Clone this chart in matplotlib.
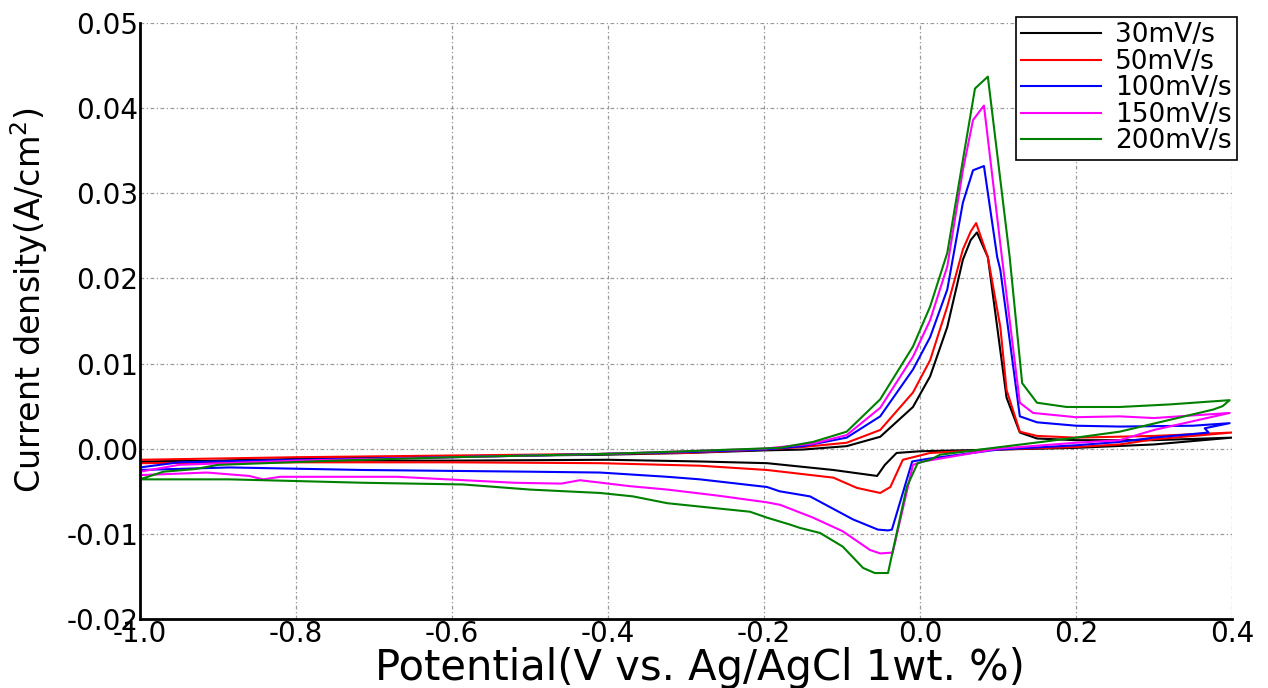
import matplotlib
matplotlib.use("Agg")
import matplotlib.pyplot as plt
from matplotlib.ticker import FormatStrFormatter

plt.rcParams['font.family'] = ['DejaVu Sans']
plt.rcParams['axes.unicode_minus'] = False

# scan-rate labels and colours
labels = ['30mV/s', '50mV/s', '100mV/s', '150mV/s', '200mV/s']
colors = ['black', 'red', 'blue', 'magenta', 'green']

# forward (anodic) sweeps, -1.0 -> 0.4 V
fwd_x_30 = [-1.0, -0.9, -0.8, -0.6, -0.4, -0.3, -0.2, -0.15, -0.094, -0.051, -0.009, 0.013, 0.035,
            0.055, 0.065, 0.073, 0.087, 0.1, 0.111, 0.128, 0.15, 0.2, 0.3, 0.4]
fwd_y_30 = [-0.0016, -0.0014, -0.0012, -0.0009, -0.0007, -0.0005, -0.0002, -0.0001, 0.0003, 0.0014,
            0.0049, 0.0085, 0.0143, 0.0222, 0.0245, 0.0254, 0.0225, 0.0136, 0.0060, 0.0019, 0.0012,
            0.0010, 0.0010, 0.0013]
fwd_x_50 = [-1.0, -0.8, -0.6, -0.4, -0.3, -0.2, -0.15, -0.094, -0.051, -0.009, 0.013, 0.035, 0.055,
            0.065, 0.072, 0.087, 0.103, 0.111, 0.128, 0.15, 0.2, 0.3, 0.4]
fwd_y_50 = [-0.0013, -0.0010, -0.0008, -0.0006, -0.0005, -0.0001, 0.0002, 0.0007, 0.0022, 0.0066,
            0.0104, 0.0167, 0.0234, 0.0255, 0.0265, 0.0225, 0.0143, 0.0069, 0.0020, 0.0015, 0.0013,
            0.0015, 0.0019]
fwd_x_100 = [-1.0, -0.95, -0.8, -0.6, -0.4, -0.3, -0.2, -0.15, -0.094, -0.051, -0.009, 0.013, 0.035,
             0.055, 0.068, 0.082, 0.099, 0.103, 0.128, 0.15, 0.2, 0.256, 0.35, 0.397]
fwd_y_100 = [-0.0022, -0.0016, -0.0013, -0.0010, -0.0006, -0.0004, -0.0001, 0.0003, 0.0013, 0.0038,
             0.0093, 0.0131, 0.0187, 0.0289, 0.0327, 0.0332, 0.0225, 0.0210, 0.0038, 0.0031, 0.0027,
             0.0026, 0.0027, 0.0030]
fwd_x_150 = [-1.0, -0.95, -0.8, -0.6, -0.4, -0.3, -0.2, -0.137, -0.094, -0.051, -0.009, 0.013, 0.035,
             0.055, 0.068, 0.082, 0.105, 0.128, 0.145, 0.2, 0.256, 0.3, 0.397]
fwd_y_150 = [-0.0027, -0.0019, -0.0014, -0.0010, -0.0006, -0.0003, 0.0000, 0.0006, 0.0016, 0.0048,
             0.0108, 0.0151, 0.0214, 0.0327, 0.0386, 0.0403, 0.0225, 0.0054, 0.0042, 0.0037, 0.0038,
             0.0036, 0.0042]
fwd_x_200 = [-1.0, -0.97, -0.93, -0.9, -0.75, -0.6, -0.4, -0.3, -0.18, -0.137, -0.094, -0.051, -0.009,
             0.013, 0.035, 0.055, 0.0705, 0.087, 0.115, 0.131, 0.15, 0.188, 0.256, 0.32, 0.397]
fwd_y_200 = [-0.0036, -0.0027, -0.0024, -0.0019, -0.0014, -0.0010, -0.0006, -0.0003, 0.0001, 0.0008,
             0.0020, 0.0058, 0.0120, 0.0167, 0.0230, 0.0339, 0.0423, 0.0437, 0.0225, 0.0077, 0.0054,
             0.0049, 0.0049, 0.0052, 0.0057]

# reverse (cathodic) sweeps, 0.4 -> -1.0 V
rev_x_30 = [0.4, 0.3, 0.2, 0.1, 0.0, -0.03, -0.045, -0.055, -0.111, -0.196, -0.282, -0.4, -0.6, -0.8, -1.0]
rev_y_30 = [0.0013, 0.0005, 0.0001, -0.0001, -0.0003, -0.0005, -0.0019, -0.0032, -0.0025, -0.0017,
            -0.0015, -0.0013, -0.0014, -0.0014, -0.0015]
rev_x_50 = [0.4, 0.3, 0.256, 0.2, 0.1, 0.013, -0.022, -0.038, -0.051, -0.081, -0.111, -0.196, -0.282,
            -0.41, -0.6, -0.8, -1.0]
rev_y_50 = [0.0019, 0.0011, 0.0005, 0.0002, -0.0001, -0.0005, -0.0013, -0.0045, -0.0052, -0.0046,
            -0.0034, -0.0025, -0.0020, -0.0017, -0.0016, -0.0016, -0.0017]
rev_x_100 = [0.397, 0.365, 0.37, 0.3, 0.256, 0.2, 0.1, 0.009, -0.010, -0.036, -0.041, -0.054, -0.086,
             -0.141, -0.18, -0.196, -0.282, -0.324, -0.41, -0.5, -0.714, -0.885, -1.0]
rev_y_100 = [0.0030, 0.0024, 0.0019, 0.0013, 0.0008, 0.0004, -0.0001, -0.0012, -0.0015, -0.0095,
             -0.0096, -0.0095, -0.0083, -0.0056, -0.0050, -0.0045, -0.0036, -0.0033, -0.0028, -0.0027,
             -0.0025, -0.0022, -0.0025]
rev_x_150 = [0.397, 0.3, 0.256, 0.2, 0.1, 0.004, -0.009, -0.035, -0.051, -0.064, -0.099, -0.137, -0.179,
             -0.196, -0.26, -0.324, -0.372, -0.436, -0.46, -0.52, -0.67, -0.82, -0.842, -0.86, -0.914, -1.0]
rev_y_150 = [0.0042, 0.0022, 0.0010, 0.0007, 0.0000, -0.0015, -0.0019, -0.0122, -0.0123, -0.0119,
             -0.0097, -0.0081, -0.0066, -0.0063, -0.0055, -0.0048, -0.0044, -0.0037, -0.0041, -0.0040,
             -0.0033, -0.0033, -0.0036, -0.0032, -0.0028, -0.0031]
rev_x_200 = [0.397, 0.388, 0.376, 0.256, 0.2, 0.077, 0.026, 0.013, -0.003, -0.017, -0.041, -0.058, -0.073,
             -0.099, -0.128, -0.154, -0.167, -0.196, -0.218, -0.282, -0.324, -0.368, -0.41, -0.5, -0.586,
             -0.714, -0.885, -1.0]
rev_y_200 = [0.0057, 0.0050, 0.0046, 0.0020, 0.0013, -0.0001, -0.0007, -0.0013, -0.0017, -0.0045,
             -0.0146, -0.0146, -0.0140, -0.0115, -0.0099, -0.0093, -0.0089, -0.0081, -0.0074, -0.0068,
             -0.0064, -0.0056, -0.0052, -0.0048, -0.0042, -0.0040, -0.0036, -0.0036]

fwd = [(fwd_x_30, fwd_y_30), (fwd_x_50, fwd_y_50), (fwd_x_100, fwd_y_100),
       (fwd_x_150, fwd_y_150), (fwd_x_200, fwd_y_200)]
rev = [(rev_x_30, rev_y_30), (rev_x_50, rev_y_50), (rev_x_100, rev_y_100),
       (rev_x_150, rev_y_150), (rev_x_200, rev_y_200)]

fig = plt.figure(figsize=(12.68, 6.88), dpi=100)
ax = fig.add_axes([0.1104, 0.1003, 0.8612, 0.8663])

for (fx, fy), (rx, ry), lab, col in zip(fwd, rev, labels, colors):
    ax.plot(fx + rx, fy + ry, color=col, lw=1.5, label=lab)

ax.set_xlim(-1.0, 0.4)
ax.set_ylim(-0.02, 0.05)
ax.set_xticks([-1.0, -0.8, -0.6, -0.4, -0.2, 0.0, 0.2, 0.4])
ax.set_yticks([-0.02, -0.01, 0.0, 0.01, 0.02, 0.03, 0.04, 0.05])
ax.xaxis.set_major_formatter(FormatStrFormatter('%.1f'))
ax.yaxis.set_major_formatter(FormatStrFormatter('%.2f'))
ax.tick_params(length=0, labelsize=20, pad=1)
ax.grid(True, color='#999999', ls=(0, (3, 2, 1, 2)), lw=0.9)

for s in ['top', 'right']:
    ax.spines[s].set_visible(False)
for s in ['left', 'bottom']:
    ax.spines[s].set_linewidth(2)

ax.set_xlabel('Potential(V vs. Ag/AgCl 1wt. %)', fontsize=30)
ax.xaxis.set_label_coords(0.513, -0.047)
ax.set_ylabel('Current density(A/cm$^2$)', fontsize=24)
ax.yaxis.set_label_coords(-0.082, 0.535)

leg = ax.legend(loc='upper right', bbox_to_anchor=(1.0046, 1.01), fontsize=19, fancybox=False,
                edgecolor='black', framealpha=1, handlelength=3.0, borderpad=0.2,
                labelspacing=0.02, handletextpad=0.55, borderaxespad=0)
leg.get_frame().set_linewidth(1.2)

fig.savefig('out.png', dpi=100)
